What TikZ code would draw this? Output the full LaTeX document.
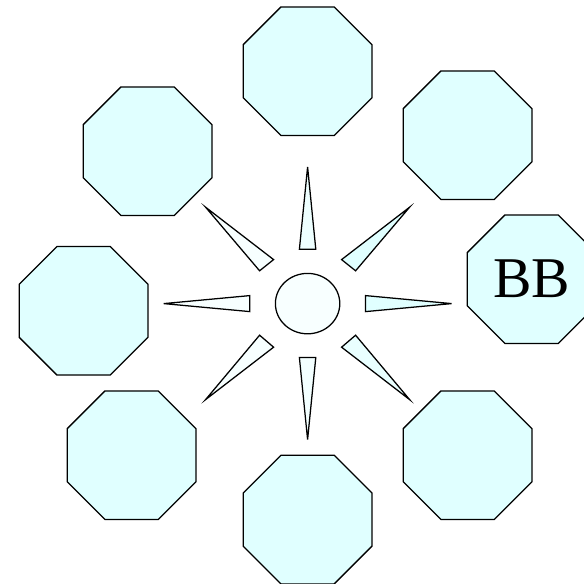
\documentclass[tikz,border=0pt]{standalone}
\usepackage{fontspec}
\setmainfont{Liberation Serif}
\usepackage{tikz}
\usetikzlibrary{shapes.geometric}
\definecolor{octcol}{RGB}{224,255,255}
\definecolor{hubcol}{RGB}{248,255,255}

\begin{document}
\begin{tikzpicture}[
  line join=miter,
  oct/.style={draw=black, line width=0.9pt, fill=octcol, regular polygon,
              regular polygon sides=8, minimum size=3.48cm, inner sep=0pt,
              font=\fontsize{41}{44}\selectfont},
  hub/.style={draw=black, line width=0.9pt, fill=hubcol, ellipse,
              minimum width=1.61cm, minimum height=1.51cm, inner sep=0pt},
  wedge/.style={draw=black, line width=0.9pt, fill=#1},
  wedge/.default=octcol
]
  \useasboundingbox (-7.69,-7.01) rectangle (6.91,7.59);

  \node[hub] (c) at (0,0) {};

  \node[oct] (n)  at (0,5.81)     {};
  \node[oct] (ne) at (4.0,4.21)   {};
  \node[oct] (e)  at (5.60,0.61)  {BB};
  \node[oct] (se) at (4.0,-3.79)  {};
  \node[oct] (s)  at (0,-5.40)    {};
  \node[oct] (sw) at (-4.40,-3.79) {};
  \node[oct] (w)  at (-5.60,-0.18) {};
  \node[oct] (nw) at (-4.0,3.81)  {};

  % spokes round the hub
  \draw[wedge=octcol!55] (-0.205,1.36) -- (0,3.415) -- (0.205,1.36) -- cycle;
  \draw[wedge=octcol!40] (-0.205,-1.35) -- (0,-3.40) -- (0.205,-1.35) -- cycle;
  \draw[wedge=octcol!25] (-1.445,0.20) -- (-3.595,0) -- (-1.445,-0.20) -- cycle;
  \draw[wedge]           (1.45,0.20) -- (3.60,0) -- (1.45,-0.20) -- cycle;
  \draw[wedge=octcol!25] (-1.20,0.82) -- (-2.55,2.41) -- (-0.85,1.10) -- cycle;
  \draw[wedge]           (1.20,0.82) -- (2.55,2.41) -- (0.85,1.10) -- cycle;
  \draw[wedge=octcol!25] (-1.20,-0.79) -- (-2.55,-2.40) -- (-0.85,-1.09) -- cycle;
  \draw[wedge=octcol!70] (1.20,-0.79) -- (2.55,-2.40) -- (0.85,-1.09) -- cycle;
\end{tikzpicture}
\end{document}
